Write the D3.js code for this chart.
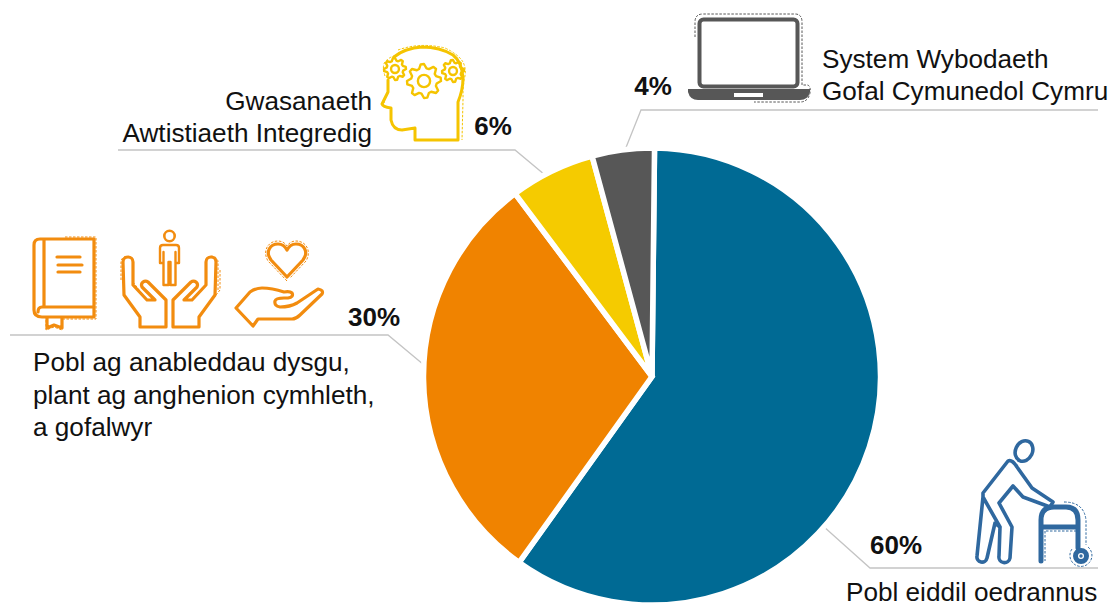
<!DOCTYPE html>
<html><head><meta charset="utf-8">
<script src="https://cdnjs.cloudflare.com/ajax/libs/d3/7.8.5/d3.min.js"></script>
<style>html,body{margin:0;padding:0;background:#fff}svg{display:block}text{font-family:"Liberation Sans",Arial,sans-serif;fill:#111}</style>
</head><body><svg id="c" width="1110" height="606"></svg>
<script>
const categories=["Pobl eiddil oedrannus","Pobl ag anableddau dysgu, plant ag anghenion cymhleth, a gofalwyr","Gwasanaeth Awtistiaeth Integredig","System Wybodaeth Gofal Cymunedol Cymru"];
const values=[59.7,29.9,6.0,4.4];
const colors=["#006a94","#f08300","#f5cb00","#575757"];
const valueLabels=["60%","30%","6%","4%"];
const valuePos=[[896,554],[374,326],[493,135],[653,95]];
const nameLines=[
 {x:846,y:600.5,a:"start",d:32,t:["Pobl eiddil oedrannus"]},
 {x:33,y:371,a:"start",d:32.5,t:["Pobl ag anableddau dysgu,","plant ag anghenion cymhleth,","a gofalwyr"]},
 {x:372,y:110,a:"end",d:32,t:["Gwasanaeth","Awtistiaeth Integredig"]},
 {x:822,y:68,a:"start",d:32,t:["System Wybodaeth","Gofal Cymunedol Cymru"]}];
const leaders=[
 [[1098,568],[870,568],[823,526]],
 [[10,335],[388,335],[424,365]],
 [[118,150],[515,150],[545,175]],
 [[1098,110],[641,110],[625,150]]];

const svg=d3.select("#c");
const cx=652,cy=376.5,R=228.5,rot=0.63*Math.PI/180;
const pie=d3.pie().sort(null).startAngle(rot).endAngle(2*Math.PI+rot)(values);
const arc=d3.arc().innerRadius(0).outerRadius(R);
const line=d3.line();

svg.append("g").selectAll("path").data(leaders).join("path")
 .attr("d",d=>line(d)).attr("fill","none").attr("stroke","#c4c4c4").attr("stroke-width",1.3);

svg.append("g").attr("transform",`translate(${cx},${cy})`).selectAll("path").data(pie).join("path")
 .attr("d",arc).attr("fill",(d,i)=>colors[i]).attr("stroke","#fff").attr("stroke-width",5.5).attr("stroke-linejoin","miter");

svg.append("g").selectAll("text").data(valueLabels).join("text")
 .attr("x",(d,i)=>valuePos[i][0]).attr("y",(d,i)=>valuePos[i][1])
 .attr("text-anchor","middle").attr("font-size",26).attr("font-weight",700).text(d=>d);

nameLines.forEach(n=>{
 const t=svg.append("text").attr("text-anchor",n.a).attr("font-size",26.15);
 n.t.forEach((s,i)=>t.append("tspan").attr("x",n.x).attr("y",n.y+i*n.d).text(s));
});

function icon(col,w){return svg.append("g").attr("fill","none").attr("stroke",col).attr("stroke-width",w).attr("stroke-linejoin","round").attr("stroke-linecap","round");}
function dash(g,d,col){g.append("path").attr("d",d).attr("stroke",col).attr("stroke-width",1).attr("stroke-dasharray","2.5 1.5").attr("stroke-linecap","butt");}

/* orange icons */
const oi=icon("#f28c0f",3.2);
oi.append("path").attr("d","M94 239H40Q34 239 34 245V310Q34 317 42 317H94V307H42Q38 307 38 312M94 239V307M44 239V307");
oi.append("path").attr("d","M57 257H80M58 265H82M58 272H80");
oi.append("path").attr("d","M47 318V328L54 325L62 328V318");
dash(oi,"M65 237H96V319H62M46 320V330L54 327L62 330","#f28c0f");
oi.append("circle").attr("cx",169.5).attr("cy",236).attr("r",5.2).attr("stroke-width",2.6);
oi.append("path").attr("stroke-width",2.4).attr("d","M163.5 263H160V248Q160 245 163 245H176Q179 245 179 248V263H175.5M163.5 252V285H168.5V262H170.5V285H175.5V252");
const lh="M166 327H140V317L124 295L123 262A5 5 0 0 1 133 262V285L147 300H155L142 287A4 4 0 0 1 148 282L166 300Z";
const rh="M173 327H199V317L215 295L216 262A5 5 0 0 0 206 262V285L192 300H184L197 287A4 4 0 0 0 191 282L173 300Z";
oi.append("path").attr("d",lh); oi.append("path").attr("d",rh);
dash(oi,"M121 280V262A6 6 0 0 1 130 257M133 282L143 295M142 282L150 281","#f28c0f");
dash(oi,"M218 290V262A6 6 0 0 0 209 257M220 270V290L208 305","#f28c0f");
const heart="M287 277L271 260C265 252 270 244 278 244C282 244 285 246 287 250C289 246 292 244 296 244C304 244 309 252 303 260Z";
oi.append("path").attr("d",heart);
dash(oi,"M287 281L268 261C262 251 268 241 278 241C282 241 285 243 287 246C289 243 292 241 296 241C306 241 312 251 306 261L290 278","#f28c0f");
oi.append("path").attr("d","M236 308L253 326L258 319H292Q296 319 300 315L322 294Q324 290 318 289L297 303Q290 307 280 307Q274 306 275 301Q276 298 284 298H288Q294 297 292 293Q290 291 284 292Q272 288 262 288Q256 288 250 292Z");

/* yellow head */
const y=icon("#f5c400",3);
y.append("path").attr("d","M415 128V140H458V102Q463 90 463 78Q462 62 453 55Q440 47 422 47Q405 48 394 57M388 80Q388 90 388 92L382 104Q383 107 391 108V120Q393 130 402 130L415 128");
function gear(x,yy,r,n){const pts=[];for(let i=0;i<n*4;i++){const a=i/(n*4)*2*Math.PI-Math.PI/8/(n/4);const rr=(i%4<2)?r:r*0.76;pts.push([x+rr*Math.cos(a),yy+rr*Math.sin(a)]);}
 y.append("path").attr("d",d3.line().curve(d3.curveLinearClosed)(pts)).attr("stroke-width",2.4);
 y.append("circle").attr("cx",x).attr("cy",yy).attr("r",r*0.36).attr("stroke-width",2.4);}
gear(395,69,11,8);gear(424,81,17,8);gear(453,71,11,8);
dash(y,"M385 76Q381 64 387 60Q391 56 396 56M398 50Q420 42 445 48Q458 54 463 62Q467 70 464 80L463 90V100L462 140M388 90L384 103","#f5c400");

/* laptop */
const g="#575757", l=icon(g,4);
l.append("rect").attr("x",699.5).attr("y",19.5).attr("width",98).attr("height",67).attr("rx",4);
svg.append("path").attr("fill",g).attr("d","M688 89H810V92Q808 100 800 100H698Q690 100 688 92Z");
svg.append("rect").attr("x",734).attr("y",93).attr("width",29).attr("height",4).attr("fill","#fff");
dash(l,"M695 37V22Q695 14 703 14H795Q802 14 802 22V85H808Q811 87 810 93Q808 102 800 102H754",g);

/* walker */
const b="#2f689f", w=icon(b,3.6);
w.append("ellipse").attr("cx",1024).attr("cy",451).attr("rx",8.5).attr("ry",10.5).attr("transform","rotate(25 1024 451)");
w.append("path").attr("d","M1008 461L983 493V497L977 556A5 5 0 0 0 987 558L995 523L1000 527L999 556A5 5 0 0 0 1010 558L1012 527L999 503L1013 486L1023 497L1050 507L1053 502L1032 488L1017 467Q1012 459 1008 461ZM983 497L1000 527");
w.append("path").attr("stroke-width",5).attr("d","M1041 561V520Q1041 507 1054 507H1066Q1078 507 1078 520V548M1041 527H1078");
dash(w,"M1046 531H1079M1045 531V561M1064 502Q1084 502 1086 520V545",b);
w.append("circle").attr("cx",1081).attr("cy",556).attr("r",5.5).attr("stroke-width",5);
w.append("circle").attr("cx",1081).attr("cy",556).attr("r",1).attr("stroke-width",1.4);
dash(w,"M1088 547A11 11 0 1 1 1072 549",b);
</script></body></html>
